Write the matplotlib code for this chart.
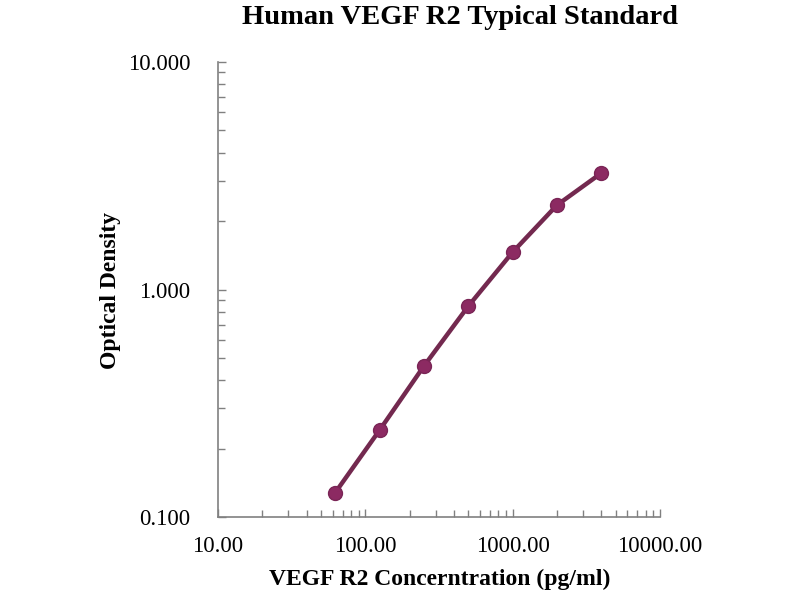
import numpy as np
import matplotlib
matplotlib.use("Agg")
import matplotlib.pyplot as plt
from matplotlib.ticker import LogLocator, FixedLocator, NullFormatter

# standard curve
conc = [62.5, 125, 250, 500, 1000, 2000, 4000]
od = [0.128, 0.241, 0.461, 0.845, 1.46, 2.35, 3.25]

xticks = [10, 100, 1000, 10000]
xlabels = ["10.00", "100.00", "1000.00", "10000.00"]
yticks = [0.1, 1, 10]
ylabels = ["0.100", "1.000", "10.000"]

plt.rcParams['font.family'] = ['Liberation Serif', 'DejaVu Serif']

fig = plt.figure(figsize=(8, 6), dpi=100)
ax = fig.add_axes([218/800, 1-517/600, (660-218)/800, (517-62)/600])

ax.plot(conc, od, color="#73294f", lw=3.2, marker="o", ms=10,
        mfc="#8c2a62", mec="#7a2556", solid_capstyle="round", zorder=3)

ax.set_xscale("log")
ax.set_yscale("log")
ax.set_xlim(10, 10000)
ax.set_ylim(0.1, 10)

ax.xaxis.set_major_locator(FixedLocator(xticks))
ax.set_xticklabels(xlabels)
ax.yaxis.set_major_locator(FixedLocator(yticks))
ax.set_yticklabels(ylabels)
ax.xaxis.set_minor_locator(LogLocator(base=10, subs=np.arange(2, 10)))
ax.yaxis.set_minor_locator(LogLocator(base=10, subs=np.arange(2, 10)))
ax.xaxis.set_minor_formatter(NullFormatter())
ax.yaxis.set_minor_formatter(NullFormatter())

for s in ["top", "right"]:
    ax.spines[s].set_visible(False)
for s in ["left", "bottom"]:
    ax.spines[s].set_color("#808080")
    ax.spines[s].set_linewidth(1.2)

ax.tick_params(which="both", direction="in", color="#808080", width=1)
ax.tick_params(which="major", length=6, labelsize=16.5)
ax.tick_params(axis="y", which="major", pad=20)
ax.tick_params(axis="x", which="major", pad=14)
ax.tick_params(which="minor", length=5)

ax.set_xlabel("VEGF R2 Concerntration (pg/ml)", fontsize=17, fontweight="bold")
ax.set_ylabel("Optical Density", fontsize=17, fontweight="bold")
ax.xaxis.set_label_coords((440-218)/(660-218), -(569-517)/(517-62))
ax.yaxis.set_label_coords(-(218-121)/(660-218), (517-290)/(517-62))
fig.text(460/800, 1-18/600, "Human VEGF R2 Typical Standard", ha="center", va="center",
         fontsize=20.5, fontweight="bold")

fig.savefig("out.png", dpi=100)
